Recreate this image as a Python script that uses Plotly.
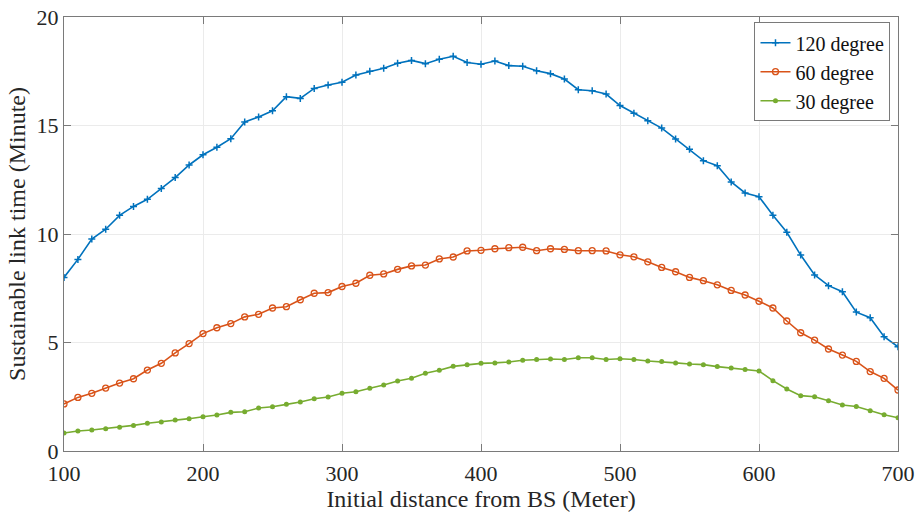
import plotly.graph_objects as go

distance = list(range(100, 701, 10))

deg120 = [8.0, 8.83, 9.77, 10.22, 10.86, 11.27, 11.6, 12.1, 12.6, 13.18,
          13.65, 14.0, 14.39, 15.16, 15.39, 15.68, 16.33, 16.25, 16.71, 16.87,
          16.99, 17.33, 17.5, 17.64, 17.87, 18.0, 17.85, 18.05, 18.19, 17.9,
          17.82, 17.97, 17.76, 17.73, 17.52, 17.39, 17.14, 16.65, 16.6, 16.45,
          15.92, 15.57, 15.22, 14.88, 14.38, 13.9, 13.38, 13.15, 12.4, 11.89,
          11.72, 10.86, 10.08, 9.03, 8.11, 7.62, 7.34, 6.4, 6.14, 5.27, 4.8]

deg60 = [2.17, 2.47, 2.66, 2.9, 3.13, 3.33, 3.73, 4.04, 4.52, 4.95,
         5.41, 5.68, 5.87, 6.18, 6.3, 6.59, 6.65, 6.97, 7.27, 7.3,
         7.58, 7.73, 8.1, 8.16, 8.37, 8.53, 8.57, 8.85, 8.94, 9.22,
         9.25, 9.32, 9.37, 9.39, 9.23, 9.32, 9.29, 9.23, 9.23, 9.22,
         9.04, 8.95, 8.72, 8.46, 8.26, 8.0, 7.85, 7.66, 7.4, 7.19,
         6.9, 6.59, 5.99, 5.45, 5.11, 4.7, 4.42, 4.13, 3.66, 3.35, 2.81]

deg30 = [0.83, 0.92, 0.97, 1.03, 1.09, 1.18, 1.28, 1.34, 1.43, 1.49,
         1.58, 1.66, 1.78, 1.81, 1.98, 2.04, 2.15, 2.26, 2.41, 2.49,
         2.66, 2.73, 2.89, 3.04, 3.23, 3.35, 3.58, 3.72, 3.9, 3.98,
         4.04, 4.06, 4.1, 4.18, 4.22, 4.24, 4.22, 4.3, 4.3, 4.22,
         4.25, 4.22, 4.15, 4.12, 4.06, 4.01, 3.98, 3.89, 3.82, 3.76,
         3.69, 3.24, 2.86, 2.55, 2.5, 2.32, 2.12, 2.05, 1.86, 1.67, 1.53]

x_ticks = [100, 200, 300, 400, 500, 600, 700]
y_ticks = [0, 5, 10, 15, 20]

font_family = "Liberation Serif, Times New Roman, Tinos, DejaVu Serif, serif"

fig = go.Figure()
fig.add_trace(go.Scatter(
    x=distance, y=deg120, name="120 degree", mode="lines+markers",
    line=dict(color="#0072BD", width=1.6),
    marker=dict(symbol="cross-thin", size=5, line=dict(color="#0072BD", width=1.5)),
))
fig.add_trace(go.Scatter(
    x=distance, y=deg60, name="60 degree", mode="lines+markers",
    line=dict(color="#D95319", width=1.6),
    marker=dict(symbol="circle-open", size=6, line=dict(color="#D95319", width=1.3)),
))
fig.add_trace(go.Scatter(
    x=distance, y=deg30, name="30 degree", mode="lines+markers",
    line=dict(color="#77AC30", width=1.6),
    marker=dict(symbol="circle", size=5, color="#77AC30"),
))

axis_common = dict(
    showline=True, linecolor="#7a7a7a", linewidth=1, mirror="ticks",
    ticks="inside", ticklen=7, tickcolor="#7a7a7a",
    showgrid=True, gridcolor="#ebebeb", gridwidth=1, zeroline=False,
    tickfont=dict(family=font_family, size=22, color="#262626"),
    automargin=False,
)

fig.update_xaxes(
    range=[100, 700], tickvals=x_ticks, ticklabelstandoff=3,
    title=dict(text="Initial distance from BS (Meter)",
               font=dict(family=font_family, size=24, color="#262626"), standoff=0),
    **axis_common,
)
fig.update_yaxes(
    range=[0, 20], tickvals=y_ticks,
    title=dict(text="Sustainable link time (Minute)",
               font=dict(family=font_family, size=24, color="#262626"), standoff=4),
    **axis_common,
)

fig.update_layout(
    width=916, height=512,
    margin=dict(l=64, r=18, t=17, b=61),
    paper_bgcolor="white", plot_bgcolor="white",
    font=dict(family=font_family, size=22, color="#262626"),
    showlegend=True,
    legend=dict(
        x=0.991, y=0.988, xanchor="right", yanchor="top",
        bgcolor="white", bordercolor="#7a7a7a", borderwidth=1,
        font=dict(family=font_family, size=20, color="#111111"),
        itemwidth=30, tracegroupgap=0,
    ),
)

fig.write_html("out.html")
